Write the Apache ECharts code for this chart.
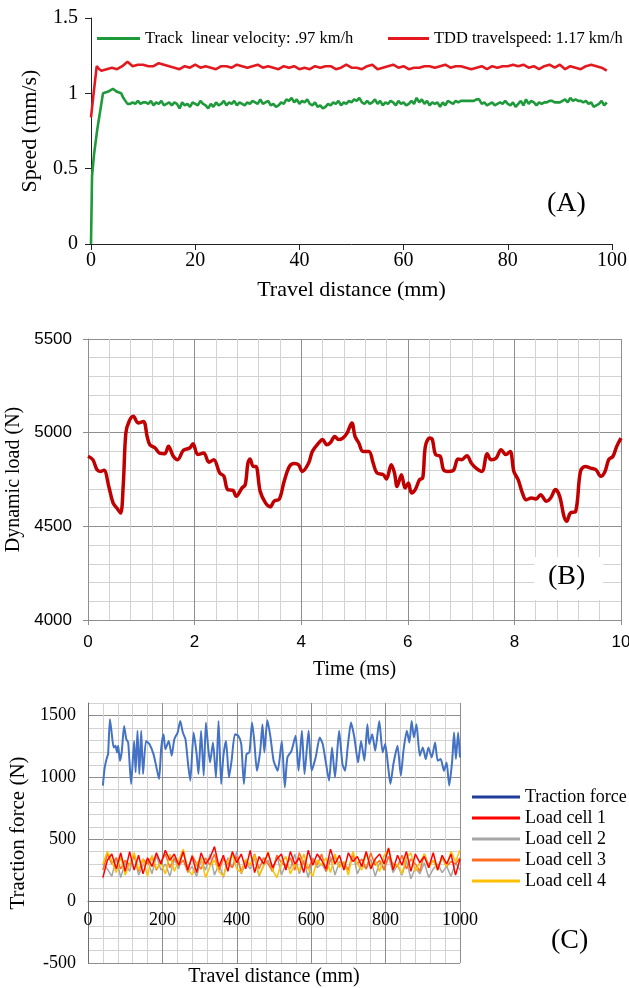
<!DOCTYPE html>
<html>
<head>
<meta charset="utf-8">
<script src="https://cdn.jsdelivr.net/npm/echarts@6/dist/echarts.min.js"></script>
<style>html,body{margin:0;padding:0;background:#fff}#c{width:629px;height:988px}</style>
</head>
<body>
<div id="c"></div>
<script>
// ---------- Panel A : speed vs travel distance ----------
const greenRampDist = [0, 0.2, 0.6, 1.2, 2.3, 3.2, 4.2, 5.0, 5.8, 6.2, 6.6];
const greenRampSpeed = [0, 0.45, 0.6, 0.76, 1.0, 1.01, 1.03, 1.01, 1.0, 0.97, 0.95];
const greenStart = 7, greenStep = 0.5;
const trackVelocity = [
0.93,0.93,0.94,0.93,0.95,0.93,0.94,0.94,0.93,0.95,
0.92,0.94,0.93,0.95,0.92,0.93,0.94,0.92,0.94,0.93,
0.90,0.94,0.92,0.93,0.91,0.94,0.93,0.92,0.95,0.93,
0.92,0.90,0.93,0.91,0.94,0.92,0.93,0.95,0.92,0.94,
0.93,0.95,0.92,0.94,0.93,0.92,0.94,0.93,0.95,0.94,
0.93,0.96,0.93,0.94,0.95,0.92,0.93,0.91,0.92,0.94,
0.93,0.96,0.95,0.97,0.94,0.96,0.93,0.95,0.94,0.96,
0.93,0.92,0.94,0.91,0.92,0.90,0.91,0.93,0.92,0.94,
0.93,0.95,0.92,0.94,0.93,0.95,0.94,0.96,0.95,0.97,
0.94,0.93,0.95,0.93,0.94,0.96,0.93,0.95,0.92,0.94,
0.93,0.95,0.94,0.92,0.95,0.93,0.94,0.92,0.93,0.95,
0.93,0.97,0.94,0.96,0.93,0.95,0.92,0.94,0.93,0.94,
0.91,0.94,0.92,0.95,0.94,0.93,0.95,0.94,0.95,0.95,
0.95,0.95,0.95,0.95,0.96,0.96,0.93,0.94,0.92,0.93,
0.94,0.92,0.93,0.94,0.93,0.95,0.93,0.92,0.94,0.91,
0.93,0.95,0.92,0.96,0.93,0.95,0.94,0.92,0.94,0.93,
0.94,0.94,0.95,0.95,0.94,0.94,0.94,0.95,0.96,0.94,
0.97,0.95,0.96,0.95,0.95,0.94,0.95,0.93,0.94,0.91,
0.92,0.93,0.95,0.92,0.94];
const redRampDist = [0, 0.5, 1.1, 1.6];
const redRampSpeed = [0.84, 1.0, 1.18, 1.16];
const redStart = 2, redStep = 1;
const travelSpeed = [
1.15,1.16,1.17,1.16,1.18,1.21,1.18,1.19,1.19,1.18,
1.18,1.20,1.19,1.18,1.17,1.16,1.18,1.17,1.19,1.17,
1.18,1.17,1.16,1.18,1.18,1.17,1.19,1.18,1.17,1.18,
1.19,1.17,1.18,1.17,1.16,1.18,1.17,1.18,1.16,1.17,
1.16,1.18,1.17,1.18,1.18,1.16,1.17,1.19,1.17,1.17,
1.16,1.18,1.19,1.16,1.17,1.18,1.19,1.17,1.18,1.16,
1.17,1.17,1.18,1.18,1.17,1.18,1.19,1.17,1.18,1.18,
1.17,1.16,1.17,1.18,1.16,1.18,1.17,1.18,1.18,1.19,
1.18,1.19,1.17,1.18,1.16,1.18,1.19,1.17,1.19,1.16,
1.18,1.17,1.16,1.18,1.19,1.18,1.17,1.15];

// ---------- Panel B : dynamic load vs time ----------
const loadTime = [0,0.09,0.17,0.24,0.30,0.39,0.47,0.54,0.61,0.66,
0.71,0.77,0.85,0.94,1.04,1.11,1.16,1.26,1.34,1.44,
1.51,1.60,1.68,1.79,1.91,1.97,2.06,2.17,2.27,2.36,
2.47,2.55,2.62,2.72,2.78,2.89,2.95,3.00,3.04,3.10,
3.15,3.23,3.33,3.42,3.49,3.59,3.68,3.78,3.87,3.95,
4.02,4.14,4.21,4.33,4.40,4.48,4.55,4.63,4.70,4.78,
4.86,4.95,5.01,5.08,5.16,5.27,5.35,5.42,5.54,5.60,
5.69,5.75,5.80,5.88,5.95,6.01,6.07,6.14,6.22,6.28,
6.33,6.41,6.46,6.52,6.61,6.67,6.76,6.86,6.94,7.01,
7.11,7.19,7.28,7.39,7.49,7.56,7.66,7.75,7.84,7.92,
7.99,8.07,8.15,8.22,8.32,8.41,8.49,8.60,8.68,8.77,
8.85,8.93,8.98,9.05,9.15,9.24,9.33,9.43,9.53,9.62,
9.70,9.77,9.85,9.92,10.0];
const loadValue = [4874,4856,4802,4793,4800,4713,4625,4598,4571,4713,
4998,5060,5087,5052,5060,4980,4936,4918,4891,4888,
4927,4874,4856,4906,4918,4941,4883,4891,4842,4856,
4785,4767,4696,4692,4660,4705,4722,4838,4859,4820,
4820,4687,4625,4604,4634,4646,4740,4820,4835,4829,
4793,4838,4900,4945,4963,4936,4948,4980,4963,4971,
4998,5052,4980,4945,4900,4900,4838,4785,4776,4753,
4829,4785,4713,4776,4705,4731,4678,4696,4749,4758,
4927,4971,4963,4883,4874,4802,4793,4800,4859,4856,
4877,4838,4811,4793,4888,4856,4865,4909,4883,4900,
4793,4749,4678,4642,4651,4646,4669,4634,4651,4696,
4660,4553,4527,4571,4580,4793,4820,4811,4802,4767,
4793,4856,4874,4927,4971];

// ---------- Panel C : traction force vs travel distance ----------
const tractionDist = [40,45,51,54,59,64,69,74,78,81,
86,91,97,103,108,116,124,128,133,138,
143,148,156,165,176,184,191,197,203,208,
217,225,232,241,248,255,262,269,275,284,
292,297,304,311,317,323,328,336,344,351,
358,364,371,379,386,395,404,412,419,426,
434,441,447,454,463,469,474,482,490,499,
510,521,529,536,547,558,566,575,582,593,
601,612,623,631,640,648,656,664,675,684,
691,698,707,716,726,734,743,751,756,764,
772,783,792,799,807,813,821,832,841,848,
857,864,870,876,883,892,900,908,915,924,
933,940,948,957,964,971,979,984,989,995,1000];
const tractionForce = [933,1080,1160,1187,1469,1348,1241,1254,1200,1254,
1134,1214,1415,1308,1281,946,1294,1040,1375,1026,
1375,1026,1294,1268,1187,1080,986,1241,1348,1227,
1294,1174,1308,1361,1455,1361,1308,1107,973,1361,
1187,1026,1375,1013,1442,1241,1120,1281,999,1455,
946,1174,1294,999,1134,1348,1335,1268,946,1187,
1201,1442,1294,1053,1214,1428,1201,1461,1335,1134,
1053,1294,919,1160,1214,1335,1053,1375,1026,1375,
1053,1160,1321,1268,1107,973,1241,999,1375,1107,
1053,1241,1442,1321,1120,1294,1134,1428,1268,1348,
1214,1455,1201,1268,1080,946,1107,1254,1013,1214,
1375,1281,1455,1321,1428,1174,1241,1147,1241,1160,
1281,1134,1147,1053,1120,933,1134,1361,1147,1361,1160];
const cellDist = [40,52,64,76,88,100,112,124,136,148,160,172,184,196,208,220,232,244,256,268,
280,292,304,316,328,340,352,364,376,388,400,412,424,436,448,460,472,484,496,508,
520,532,544,556,568,580,592,604,616,628,640,652,664,676,688,700,712,724,736,748,
760,772,784,796,808,820,832,844,856,868,880,892,904,916,928,940,952,964,976,988,1000];
const loadCell1 = [190,330,380,260,390,240,400,250,370,220,350,280,390,300,410,330,380,290,400,250,
360,230,390,300,350,440,280,370,240,400,310,380,260,410,230,360,300,390,270,340,
380,250,400,300,350,230,410,290,380,330,260,420,300,370,250,390,320,360,280,400,
260,340,380,300,430,250,370,290,400,240,380,310,360,270,390,250,370,300,380,210,340];
const loadCell2 = [300,260,200,350,190,310,240,380,210,290,330,220,370,250,300,200,340,260,410,230,
280,200,330,250,380,210,300,190,350,270,400,220,310,260,350,200,290,330,240,370,
210,300,260,380,220,330,190,350,270,300,240,360,210,320,280,250,390,220,300,260,
340,200,310,270,360,230,290,210,330,180,270,220,310,190,260,300,230,280,200,310,250];
const loadCell3 = [250,380,300,350,260,330,290,370,240,340,300,360,250,320,380,270,350,290,330,240,
370,300,260,350,290,380,250,340,310,270,360,240,330,290,380,260,350,300,240,370,
310,280,350,250,390,300,260,340,290,380,240,330,360,280,310,250,370,300,340,260,
390,290,330,250,360,300,280,370,260,340,300,240,380,290,330,260,350,280,320,300,350];
const loadCell4 = [300,400,320,230,360,210,300,390,250,340,200,370,260,310,220,380,240,330,420,260,
210,300,350,190,280,330,240,200,320,380,260,230,340,290,370,210,280,400,250,190,
310,360,220,300,240,380,260,200,330,290,350,230,380,270,320,210,400,300,250,390,
280,330,240,370,420,260,300,220,350,390,240,310,380,270,330,250,360,280,400,320,410];

const SERIF = "'Liberation Serif','Times New Roman',serif";
const SANS = "'Liberation Sans Narrow','Liberation Sans',Arial,sans-serif";
const MAJOR = '#8e8e8e', MINOR = '#d2d2d2';
const plain = v => String(Math.round(v * 1000) / 1000);

function pairs(xs, ys) { const n = Math.min(xs.length, ys.length); const out = []; for (let i = 0; i < n; i++) out.push([xs[i], ys[i]]); return out; }
function gridded(rampX, rampY, start, step, vals) {
  const out = pairs(rampX, rampY);
  vals.forEach((v, i) => out.push([start + i * step, v]));
  return out;
}

const chart = echarts.init(document.getElementById('c'), null, {renderer: 'canvas'});
const option = {
  animation: false,
  backgroundColor: '#fff',
  grid: [
    {left: 91, top: 18, width: 521, height: 226, outerBoundsMode: 'none'},
    {left: 88, top: 339, width: 533, height: 281, outerBoundsMode: 'none'},
    {left: 88, top: 703, width: 372, height: 260, outerBoundsMode: 'none'}
  ],
  legend: [
    {left: 92, top: 25, itemWidth: 43, itemHeight: 3, icon: 'rect', itemGap: 0,
     textStyle: {fontFamily: SERIF, fontSize: 16.5, color: '#000'},
     data: ['Track  linear velocity: .97 km/h']},
    {left: 383, top: 25, itemWidth: 41, itemHeight: 3, icon: 'rect', itemGap: 0,
     textStyle: {fontFamily: SERIF, fontSize: 16.5, color: '#000'},
     data: ['TDD travelspeed: 1.17 km/h']},
    {orient: 'vertical', left: 467, top: 783, itemWidth: 48, itemHeight: 3, icon: 'rect', itemGap: 3,
     textStyle: {fontFamily: SERIF, fontSize: 18, color: '#000', lineHeight: 18},
     data: [{name: 'Traction force', itemStyle: {color: '#1f3d99'}}, 'Load cell 1', 'Load cell 2', 'Load cell 3', 'Load cell 4']}
  ],
  xAxis: [
    {gridIndex: 0, type: 'value', min: 0, max: 100, interval: 20,
     name: 'Travel distance (mm)', nameLocation: 'middle', nameGap: 35,
     nameTextStyle: {fontFamily: SERIF, fontSize: 22, color: '#000'},
     axisLine: {lineStyle: {color: '#222', width: 1}},
     axisTick: {show: true, length: 6, lineStyle: {color: '#222'}},
     axisLabel: {fontFamily: SERIF, fontSize: 20, color: '#000', margin: 7, formatter: plain},
     splitLine: {show: false}},
    {gridIndex: 1, type: 'value', min: 0, max: 10, interval: 2,
     name: 'Time (ms)', nameLocation: 'middle', nameGap: 40,
     nameTextStyle: {fontFamily: SERIF, fontSize: 20, color: '#000'},
     axisLine: {lineStyle: {color: MAJOR}},
     axisTick: {show: true, length: 5, lineStyle: {color: MAJOR}},
     axisLabel: {fontFamily: SANS, fontSize: 17, color: '#000', margin: 14, formatter: plain},
     minorTick: {show: false, splitNumber: 5},
     splitLine: {show: true, lineStyle: {color: MAJOR, width: 1}},
     minorSplitLine: {show: true, lineStyle: {color: MINOR, width: 1}}},
    {gridIndex: 2, type: 'value', min: 0, max: 1000, interval: 200, position: 'bottom', offset: -62,
     name: 'Travel distance (mm)', nameLocation: 'middle', nameGap: 66,
     nameTextStyle: {fontFamily: SERIF, fontSize: 20, color: '#000'},
     axisLine: {onZero: false, lineStyle: {color: '#6e6e6e'}},
     axisTick: {show: false},
     axisLabel: {fontFamily: SERIF, fontSize: 18, color: '#000', margin: 10, formatter: plain},
     minorTick: {show: false, splitNumber: 5},
     splitLine: {show: true, lineStyle: {color: MAJOR, width: 1}},
     minorSplitLine: {show: true, lineStyle: {color: MINOR, width: 1}}}
  ],
  yAxis: [
    {gridIndex: 0, type: 'value', min: 0, max: 1.5, interval: 0.5,
     name: 'Speed (mm/s)', nameLocation: 'middle', nameGap: 50,
     nameTextStyle: {fontFamily: SERIF, fontSize: 22, color: '#000'},
     axisLine: {show: true, lineStyle: {color: '#222', width: 1}},
     axisTick: {show: true, length: 6, lineStyle: {color: '#222'}},
     axisLabel: {fontFamily: SERIF, fontSize: 20, color: '#000', margin: 13, formatter: plain},
     splitLine: {show: false}},
    {gridIndex: 1, type: 'value', min: 4000, max: 5500, interval: 500,
     name: 'Dynamic load (N)', nameLocation: 'middle', nameGap: 55,
     nameTextStyle: {fontFamily: SERIF, fontSize: 20, color: '#000'},
     axisLine: {show: true, lineStyle: {color: MAJOR}},
     axisTick: {show: true, length: 5, lineStyle: {color: MAJOR}},
     axisLabel: {fontFamily: SANS, fontSize: 17, color: '#000', margin: 16, formatter: plain},
     minorTick: {show: false, splitNumber: 5},
     splitLine: {show: true, lineStyle: {color: MAJOR, width: 1}},
     minorSplitLine: {show: true, lineStyle: {color: MINOR, width: 1}}},
    {gridIndex: 2, type: 'value', min: -500, max: 1600, interval: 100,
     name: 'Traction force (N)', nameLocation: 'middle', nameGap: 52,
     nameTextStyle: {fontFamily: SERIF, fontSize: 21, color: '#000'},
     axisLine: {show: true, lineStyle: {color: '#6e6e6e'}},
     axisTick: {show: false},
     axisLabel: {fontFamily: SERIF, fontSize: 18, color: '#000', margin: 12,
       formatter: v => (Math.abs(Math.round(v) % 500) === 0 ? String(Math.round(v)) : '')},
     splitLine: {show: true, lineStyle: {color: [MAJOR, MINOR, MINOR, MINOR, MINOR], width: 1}}}
  ],
  series: [
    {name: 'Track  linear velocity: .97 km/h', type: 'line', xAxisIndex: 0, yAxisIndex: 0, showSymbol: false,
     data: gridded(greenRampDist, greenRampSpeed, greenStart, greenStep, trackVelocity),
     itemStyle: {color: '#1f9a3a'}, lineStyle: {color: '#1f9a3a', width: 2.6}},
    {name: 'TDD travelspeed: 1.17 km/h', type: 'line', xAxisIndex: 0, yAxisIndex: 0, showSymbol: false,
     data: gridded(redRampDist, redRampSpeed, redStart, redStep, travelSpeed),
     itemStyle: {color: '#e3191f'}, lineStyle: {color: '#e3191f', width: 2.6}},
    {name: 'Dynamic load', type: 'line', xAxisIndex: 1, yAxisIndex: 1, showSymbol: false, smooth: 0.35,
     data: pairs(loadTime, loadValue),
     itemStyle: {color: '#c00000'}, lineStyle: {color: '#c00000', width: 3.5}},
    {name: 'Traction force', type: 'line', xAxisIndex: 2, yAxisIndex: 2, showSymbol: false, smooth: 0.2,
     data: pairs(tractionDist, tractionForce),
     itemStyle: {color: '#4472c4'}, lineStyle: {color: '#4472c4', width: 2}},
    {name: 'Load cell 2', type: 'line', xAxisIndex: 2, yAxisIndex: 2, showSymbol: false,
     data: pairs(cellDist, loadCell2),
     itemStyle: {color: '#a6a6a6'}, lineStyle: {color: '#a6a6a6', width: 1.5}},
    {name: 'Load cell 3', type: 'line', xAxisIndex: 2, yAxisIndex: 2, showSymbol: false,
     data: pairs(cellDist, loadCell3),
     itemStyle: {color: '#ff6d21'}, lineStyle: {color: '#ff6d21', width: 1.5}},
    {name: 'Load cell 4', type: 'line', xAxisIndex: 2, yAxisIndex: 2, showSymbol: false,
     data: pairs(cellDist, loadCell4),
     itemStyle: {color: '#ffc000'}, lineStyle: {color: '#ffc000', width: 1.5}},
    {name: 'Load cell 1', type: 'line', xAxisIndex: 2, yAxisIndex: 2, showSymbol: false,
     data: pairs(cellDist, loadCell1),
     itemStyle: {color: '#ff0000'}, lineStyle: {color: '#ff0000', width: 1.5}}
  ],
  graphic: [
    {type: 'text', left: 547, top: 190, style: {text: '(A)', fontFamily: SERIF, fontSize: 28, fill: '#000'}},
    {type: 'rect', shape: {x: 534, y: 557, width: 69, height: 43}, style: {fill: '#fff'}, z: 10},
    {type: 'text', left: 548, top: 563, z: 11, style: {text: '(B)', fontFamily: SERIF, fontSize: 28, fill: '#000'}},
    {type: 'text', left: 551, top: 927, style: {text: '(C)', fontFamily: SERIF, fontSize: 28, fill: '#000'}}
  ]
};
chart.setOption(option);
</script>
</body>
</html>
